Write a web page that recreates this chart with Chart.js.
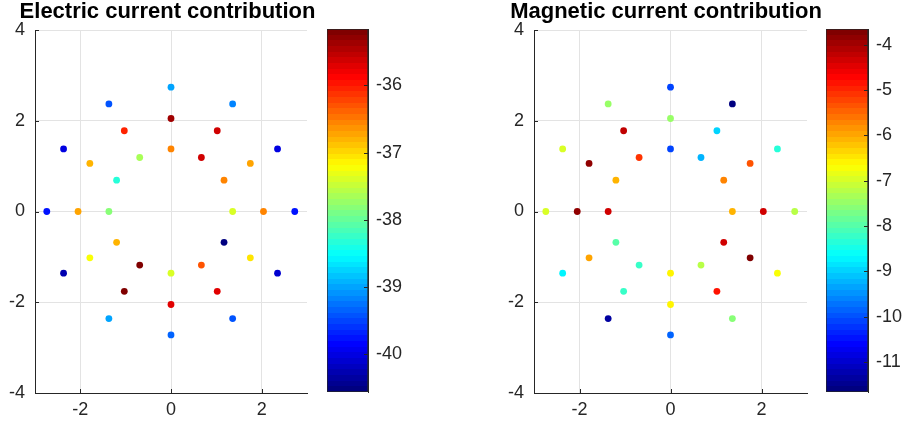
<!DOCTYPE html>
<html>
<head>
<meta charset="utf-8">
<script src="https://cdn.jsdelivr.net/npm/chart.js@4"></script>
<style>
  body { margin: 0; background: #fff; }
  #wrap { position: relative; width: 904px; height: 427px; overflow: hidden; }
  canvas { position: absolute; top: 0; }
</style>
</head>
<body>
<div id="wrap">
  <canvas id="elecPlot" width="335" height="427" style="left:0px"></canvas>
  <canvas id="elecBar" width="90" height="427" style="left:320px"></canvas>
  <canvas id="magPlot" width="332" height="427" style="left:500px"></canvas>
  <canvas id="magBar" width="85" height="427" style="left:819px"></canvas>
</div>
<script>
// ---------- DATA ----------
// point positions (same layout for both plots), three rings of 12
const ptX = [
  2.73, 2.35, 1.36, 0, -1.37, -2.37, -2.74, -2.37, -1.37, 0, 1.36, 2.35,
  2.04, 1.75, 1.02, 0, -1.03, -1.79, -2.05, -1.79, -1.03, 0, 1.02, 1.75,
  1.36, 1.17, 0.67, 0, -0.69, -1.2, -1.37, -1.2, -0.69, 0, 0.67, 1.17,
];
const ptY = [
  0, 1.38, 2.37, 2.74, 2.37, 1.38, 0, -1.36, -2.36, -2.72, -2.36, -1.36,
  0, 1.06, 1.78, 2.05, 1.78, 1.06, 0, -1.02, -1.76, -2.05, -1.76, -1.02,
  0, 0.69, 1.19, 1.38, 1.19, 0.69, 0, -0.68, -1.18, -1.36, -1.18, -0.68,
];
const elecVals = [
  -39.73, -40.02, -39.14, -39.04, -39.46, -40.02, -39.78, -40.23, -38.98, -39.30, -39.41, -40.12,
  -36.53, -36.73, -35.60, -35.39, -36.05, -36.79, -36.73, -37.19, -35.20, -35.75, -35.75, -37.10,
  -37.43, -36.53, -35.65, -36.53, -37.69, -38.32, -37.80, -36.84, -35.16, -37.43, -36.31, -40.56,
];
const magVals = [
  -7.17, -8.38, -11.66, -10.11, -7.49, -6.93, -7.01, -8.78, -11.32, -9.79, -7.63, -6.77,
  -4.29, -5.36, -8.94, -7.49, -4.21, -3.89, -3.89, -5.91, -8.26, -6.57, -4.81, -3.65,
  -6.10, -5.71, -9.17, -10.06, -5.05, -6.03, -4.29, -8.03, -8.18, -6.57, -7.25, -4.29,
];
const xTicks = [-2, 0, 2];
const yTicks = [-4, -2, 0, 2, 4];
const elecBarTicks = [-40, -39, -38, -37, -36];
const magBarTicks = [-11, -10, -9, -8, -7, -6, -5, -4];

const FONT = '"Liberation Sans", Arial, Helvetica, sans-serif';
const AXIS = "#262626";
const GRID = "#e3e3e3";

// ---------- HELPERS ----------
function jet(t) {
  const c = (v) => Math.round(255 * Math.min(1, Math.max(0, v)));
  return `rgb(${c(1.5 - Math.abs(4 * t - 3))},${c(1.5 - Math.abs(4 * t - 2))},${c(1.5 - Math.abs(4 * t - 1))})`;
}

// 64 level colormap like matlab
function cmapColor(v, lo, hi) {
  const i = Math.max(0, Math.min(63, Math.floor(((v - lo) / (hi - lo)) * 64)));
  return jet(i / 63);
}

function barGradient(chart) {
  const a = chart.chartArea;
  if (!a) return null;
  const g = chart.ctx.createLinearGradient(0, a.bottom, 0, a.top);
  for (let i = 0; i < 64; i++) {
    const col = jet(i / 63);
    g.addColorStop(i / 64, col);
    g.addColorStop((i + 1) / 64, col);
  }
  return g;
}

const fixTicks = (list) => (s) => {
  s.ticks = list.map((value) => ({ value }));
};

// small tick marks pointing into the axes
const inwardTicks = {
  id: "inwardTicks",
  afterDraw(chart) {
    const { ctx, chartArea: a } = chart;
    const len = 4;
    ctx.save();
    ctx.strokeStyle = AXIS;
    ctx.lineWidth = 1;
    ctx.beginPath();
    Object.values(chart.scales).forEach((s) => {
      if (!s.options.display || !s.options.border.display) return;
      s.ticks.forEach((t) => {
        const p = Math.round(s.getPixelForValue(t.value)) + 0.5;
        if (s.position === "bottom") {
          ctx.moveTo(p, a.bottom);
          ctx.lineTo(p, a.bottom - len);
        } else if (s.position === "left") {
          ctx.moveTo(a.left, p);
          ctx.lineTo(a.left + len, p);
        } else if (s.position === "right") {
          ctx.moveTo(a.right, p);
          ctx.lineTo(a.right - len, p);
        }
      });
    });
    ctx.stroke();
    ctx.restore();
  },
};

// spacer = empty room right of the axes, so the full-width title centres like matlab
function renderScatter(id, title, vals, yWidth, spacer) {
  const lo = Math.min(...vals);
  const hi = Math.max(...vals);
  new Chart(document.getElementById(id), {
    type: "scatter",
    data: {
      datasets: [
        {
          data: ptX.map((x, i) => ({ x, y: ptY[i] })),
          backgroundColor: vals.map((v) => cmapColor(v, lo, hi)),
          pointRadius: 3.4,
          pointHoverRadius: 3.4,
          pointBorderWidth: 0,
        },
      ],
    },
    options: {
      responsive: false,
      animation: false,
      events: [],
      layout: { padding: 0 },
      plugins: {
        legend: { display: false },
        tooltip: { enabled: false },
        title: {
          display: true,
          text: title,
          color: "#000",
          font: { family: FONT, size: 22, weight: "bold", lineHeight: 1 },
          padding: { top: 0.5, bottom: 7.5 },
        },
      },
      scales: {
        x: {
          type: "linear",
          min: -3,
          max: 3,
          afterBuildTicks: fixTicks(xTicks),
          afterFit: (s) => { s.height = 34; },
          grid: { color: GRID, drawTicks: false },
          border: { color: AXIS },
          ticks: { color: AXIS, font: { family: FONT, size: 18 }, padding: 6 },
        },
        y: {
          type: "linear",
          min: -4,
          max: 4,
          afterBuildTicks: fixTicks(yTicks),
          afterFit: (s) => { s.width = yWidth; },
          grid: { color: GRID, drawTicks: false },
          border: { color: AXIS },
          ticks: { color: AXIS, font: { family: FONT, size: 18 }, padding: 10 },
        },
        spacer: {
          type: "linear",
          position: "right",
          afterFit: (s) => { s.width = spacer; },
          grid: { display: false, drawTicks: false },
          border: { display: false },
          ticks: { display: false },
        },
      },
    },
    plugins: [inwardTicks],
  });
}

function renderColorbar(id, vals, ticks, axisWidth) {
  const lo = Math.min(...vals);
  const hi = Math.max(...vals);
  new Chart(document.getElementById(id), {
    type: "bar",
    data: {
      labels: [""],
      datasets: [
        {
          data: [[lo, hi]],
          backgroundColor: (c) => barGradient(c.chart),
          borderColor: AXIS,
          borderWidth: 1,
          borderSkipped: false,
          barPercentage: 1,
          categoryPercentage: 1,
        },
      ],
    },
    options: {
      responsive: false,
      animation: false,
      events: [],
      layout: { padding: { left: 7, top: 29, bottom: 35 } },
      plugins: { legend: { display: false }, tooltip: { enabled: false } },
      scales: {
        x: { display: false },
        y: {
          position: "right",
          min: lo,
          max: hi,
          afterBuildTicks: fixTicks(ticks),
          afterFit: (s) => { s.width = axisWidth; },
          grid: { display: false, drawTicks: false },
          border: { color: AXIS },
          ticks: {
            color: AXIS,
            font: { family: FONT, size: 18 },
            padding: 8,
            callback: (v) => String(v),
          },
        },
      },
    },
    plugins: [inwardTicks],
  });
}

// ---------- CHARTS ----------
renderScatter("elecPlot", "Electric current contribution", elecVals, 35, 28);
renderColorbar("elecBar", elecVals, elecBarTicks, 42);
renderScatter("magPlot", "Magnetic current contribution", magVals, 34, 25);
renderColorbar("magBar", magVals, magBarTicks, 36);
</script>
</body>
</html>
